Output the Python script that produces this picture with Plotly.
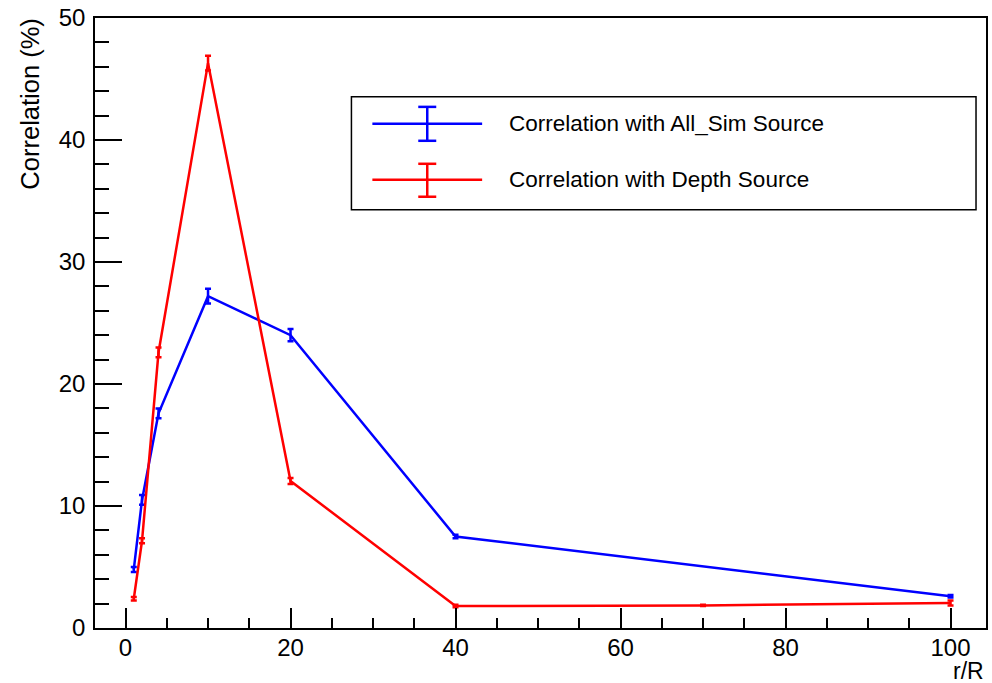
import plotly.graph_objects as go

# r/R sampling points and measured correlations (%)
allsim_r = [1, 2, 4, 10, 20, 40, 100]
allsim_corr = [4.8, 10.5, 17.6, 27.2, 24.0, 7.5, 2.6]
allsim_err = [0.2, 0.4, 0.4, 0.6, 0.5, 0.15, 0.1]

depth_r = [1, 2, 4, 10, 20, 40, 70, 100]
depth_corr = [2.4, 7.15, 22.6, 46.3, 12.05, 1.8, 1.85, 2.05]
depth_err = [0.15, 0.2, 0.4, 0.6, 0.25, 0.1, 0.05, 0.2]

series = [
    ("Correlation with All_Sim Source", allsim_r, allsim_corr, allsim_err, "#0000ff"),
    ("Correlation with Depth Source", depth_r, depth_corr, depth_err, "#ff0000"),
]

FONT = "Liberation Sans, Arial, Helvetica, sans-serif"

fig = go.Figure()
for name, xs, ys, es, col in series:
    fig.add_trace(go.Scatter(
        x=xs, y=ys, name=name, mode="lines",
        line=dict(color=col, width=2.5),
        error_y=dict(type="data", array=es, visible=True,
                     color=col, thickness=2.5, width=3),
        showlegend=False,
    ))

axis_common = dict(
    showgrid=False, zeroline=False,
    showline=True, linecolor="black", linewidth=1.5, mirror=True,
    ticks="inside", tickcolor="black", tickwidth=1.5,
    tickfont=dict(family=FONT, size=24, color="black"),
)

fig.update_xaxes(range=[-3.7, 104.3], dtick=20, tick0=0, ticklen=20,
                 minor=dict(dtick=5, ticklen=10, ticks="inside",
                            tickcolor="black", tickwidth=1.5),
                 ticklabelstandoff=-3,
                 **axis_common)
fig.update_yaxes(range=[0, 50], dtick=10, tick0=0, ticklen=27,
                 minor=dict(dtick=2, ticklen=14, ticks="inside",
                            tickcolor="black", tickwidth=1.5),
                 ticklabelstandoff=3,
                 **axis_common)

# Axis titles, aligned to the axis ends
fig.add_annotation(text="r/R", xref="paper", yref="paper", x=1.0, y=-0.071,
                   xanchor="right", yanchor="middle", showarrow=False,
                   font=dict(family=FONT, size=23, color="black"))
fig.add_annotation(text="Correlation (%)", xref="paper", yref="paper",
                   x=-0.073, y=1.003, xanchor="center", yanchor="top",
                   textangle=-90, showarrow=False,
                   font=dict(family=FONT, size=25.5, color="black"))

# Legend box with line + error-bar glyphs
box = dict(x0=0.2878, x1=0.9888, y0=0.6858, y1=0.8707)
fig.add_shape(type="rect", xref="paper", yref="paper", **box,
              line=dict(color="black", width=1.5), fillcolor="white")

glyph_x0, glyph_x1, glyph_xc, cap = 0.3113, 0.4345, 0.3729, 0.0101
rows = [(0.8265, 0.8543, 0.7987), (0.7349, 0.7610, 0.7070)]
for (name, _, _, _, col), (yc, ytop, ybot) in zip(series, rows):
    ln = dict(color=col, width=2.5)
    fig.add_shape(type="line", xref="paper", yref="paper",
                  x0=glyph_x0, x1=glyph_x1, y0=yc, y1=yc, line=ln)
    fig.add_shape(type="line", xref="paper", yref="paper",
                  x0=glyph_xc, x1=glyph_xc, y0=ybot, y1=ytop, line=ln)
    for yy in (ytop, ybot):
        fig.add_shape(type="line", xref="paper", yref="paper",
                      x0=glyph_xc - cap, x1=glyph_xc + cap, y0=yy, y1=yy, line=ln)
    fig.add_annotation(text=name, xref="paper", yref="paper",
                       x=0.4625, y=yc, xanchor="left", yanchor="middle",
                       showarrow=False,
                       font=dict(family=FONT, size=22.5, color="black"))

fig.update_layout(
    width=992, height=683,
    margin=dict(l=95, r=4, t=17, b=55),
    paper_bgcolor="white", plot_bgcolor="white",
)

fig.write_html("out.html")
